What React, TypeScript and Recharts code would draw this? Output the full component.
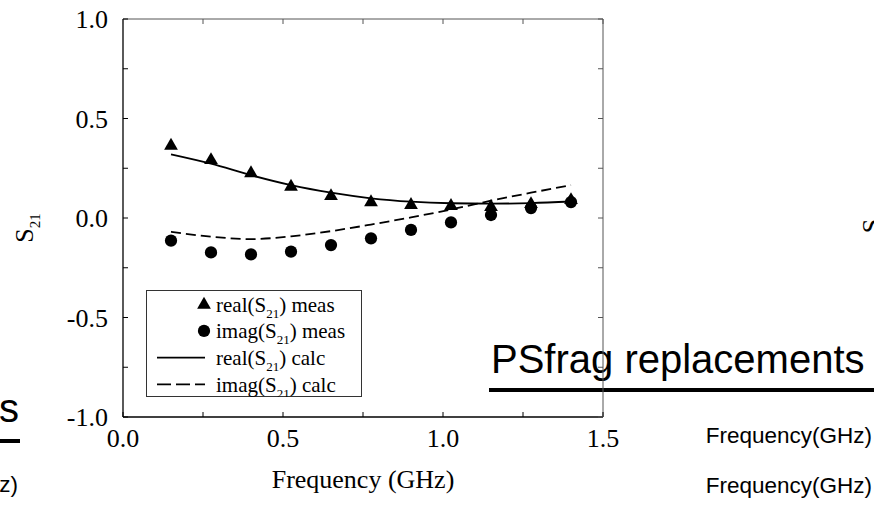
import React from 'react';
import { ComposedChart, Line, Scatter, XAxis, YAxis, Legend, Symbols } from 'recharts';

const FREQ = [0.15, 0.275, 0.4, 0.525, 0.65, 0.775, 0.9, 1.025, 1.15, 1.275, 1.4];
const REAL_MEAS = [0.363, 0.291, 0.225, 0.157, 0.11, 0.079, 0.065, 0.06, 0.055, 0.07, 0.09];
const IMAG_MEAS = [-0.114, -0.173, -0.183, -0.169, -0.136, -0.102, -0.06, -0.022, 0.015, 0.05, 0.08];
const REAL_CALC = [0.32, 0.273, 0.215, 0.165, 0.127, 0.099, 0.082, 0.074, 0.072, 0.075, 0.083];
const IMAG_CALC = [-0.069, -0.094, -0.106, -0.092, -0.066, -0.033, 0.003, 0.043, 0.087, 0.127, 0.165];

const X_TICKS = [0, 0.25, 0.5, 0.75, 1, 1.25, 1.5];
const X_LABELED = [0, 0.5, 1, 1.5];
const Y_TICKS = [-1, -0.75, -0.5, -0.25, 0, 0.25, 0.5, 0.75, 1];
const Y_LABELED = [-1, -0.5, 0, 0.5, 1];

const LEGEND_ITEMS = [
  { pre: 'real(S', post: ') meas', icon: 'triangle' },
  { pre: 'imag(S', post: ') meas', icon: 'circle' },
  { pre: 'real(S', post: ') calc', icon: 'solid' },
  { pre: 'imag(S', post: ') calc', icon: 'dashed' },
];

const data = FREQ.map((f, i) => ({
  f,
  realMeas: REAL_MEAS[i],
  imagMeas: IMAG_MEAS[i],
  realCalc: REAL_CALC[i],
  imagCalc: IMAG_CALC[i],
}));

const SERIF = '"Liberation Serif", "Times New Roman", serif';
const SANS = '"Liberation Sans", Arial, Helvetica, sans-serif';
const INK = '#000';
const FRAME = '#555';
const fmt = (v: number) => (v === 0 ? '0.0' : v.toFixed(1));

function BottomTick({ x, y, payload }: any) {
  const v = payload.value;
  return (
    <g>
      <line x1={x} x2={x} y1={y} y2={y - 5} stroke={INK} />
      {X_LABELED.includes(v) && (
        <text x={x} y={y + 30} textAnchor="middle" fontFamily={SERIF} fontSize={26} fill={INK}>
          {fmt(v)}
        </text>
      )}
    </g>
  );
}

function TopTick({ x, y }: any) {
  return <line x1={x} x2={x} y1={y} y2={y + 5} stroke={FRAME} />;
}

function LeftTick({ x, y, payload }: any) {
  const v = payload.value;
  return (
    <g>
      <line x1={x} x2={x + 5} y1={y} y2={y} stroke={INK} />
      {Y_LABELED.includes(v) && (
        <text x={x - 15} y={y + 9} textAnchor="end" fontFamily={SERIF} fontSize={26} fill={INK}>
          {fmt(v)}
        </text>
      )}
    </g>
  );
}

function RightTick({ x, y }: any) {
  return <line x1={x} x2={x - 5} y1={y} y2={y} stroke={FRAME} />;
}

const triangleShape = (p: any) => (
  <Symbols cx={p.cx} cy={p.cy} type="triangle" size={82} fill={INK} />
);
const circleShape = (p: any) => (
  <Symbols cx={p.cx} cy={p.cy} type="circle" size={118} fill={INK} />
);

function XTitle({ viewBox }: any) {
  const vb = viewBox || { x: 123, y: 417, width: 480 };
  return (
    <text x={vb.x + vb.width / 2} y={vb.y + 71} textAnchor="middle" fontFamily={SERIF} fontSize={26} fill={INK}>
      Frequency (GHz)
    </text>
  );
}

function YTitle({ viewBox }: any) {
  const vb = viewBox || { y: 19, height: 398 };
  const cx = 33;
  const cy = vb.y + vb.height / 2 + 10;
  return (
    <text x={cx} y={cy} transform={`rotate(-90 ${cx} ${cy})`} textAnchor="middle" fontFamily={SERIF} fontSize={26} fill={INK}>
      S<tspan dy={7} fontSize={15}>21</tspan>
    </text>
  );
}

function LegendBox() {
  return (
    <svg width={216} height={107} style={{ display: 'block' }}>
      <rect x={0.5} y={0.5} width={215} height={106} fill="#fff" stroke="#333" />
      {LEGEND_ITEMS.map((it, i) => {
        const base = 21.7 + i * 26.7;
        const mid = base - 7.5;
        let icon = null;
        if (it.icon === 'triangle') icon = <Symbols cx={58} cy={mid + 0.5} type="triangle" size={82} fill={INK} />;
        if (it.icon === 'circle') icon = <Symbols cx={58} cy={mid} type="circle" size={118} fill={INK} />;
        if (it.icon === 'solid') icon = <line x1={11} x2={59} y1={mid} y2={mid} stroke={INK} strokeWidth={1.8} />;
        if (it.icon === 'dashed')
          icon = <line x1={11} x2={59} y1={mid} y2={mid} stroke={INK} strokeWidth={1.8} strokeDasharray="14 5" />;
        return (
          <g key={i}>
            {icon}
            <text x={70} y={base} fontFamily={SERIF} fontSize={21} fill={INK}>
              {it.pre}
              <tspan dy={6} fontSize={13}>21</tspan>
              <tspan dy={-6}>{it.post}</tspan>
            </text>
          </g>
        );
      })}
    </svg>
  );
}

export default function App() {
  return (
    <div style={{ position: 'absolute', left: 0, top: 0, width: 874, height: 505, background: '#fff', overflow: 'hidden' }}>
      {/* leftovers of the neighbouring psfrag figures */}
      <svg width={874} height={505} style={{ position: 'absolute', left: 0, top: 0 }}>
        <text x={491} y={373} fontFamily={SANS} fontSize={40} fill={INK}>PSfrag replacements</text>
        <rect x={489} y={388} width={385} height={4} fill={INK} />
        <text x={872} y={443} textAnchor="end" fontFamily={SANS} fontSize={22.5} fill={INK}>Frequency(GHz)</text>
        <text x={872} y={493} textAnchor="end" fontFamily={SANS} fontSize={22.5} fill={INK}>Frequency(GHz)</text>
        <text x={19} y={422} textAnchor="end" fontFamily={SANS} fontSize={40} fill={INK}>PSfrag replacements</text>
        <rect x={0} y={439} width={20} height={4} fill={INK} />
        <text x={18} y={492} textAnchor="end" fontFamily={SANS} fontSize={22.5} fill={INK}>Frequency(GHz)</text>
        <text x={880} y={226} transform="rotate(-90 880 226)" textAnchor="middle" fontFamily={SERIF} fontSize={26} fill={INK}>S</text>
      </svg>
      <div style={{ position: 'absolute', left: 0, top: 0 }}>
        <ComposedChart width={874} height={505} data={data} margin={{ top: 18, right: 270, bottom: 0, left: 0 }}>
          <XAxis
            dataKey="f"
            type="number"
            domain={[0, 1.5]}
            allowDataOverflow
            ticks={X_TICKS}
            interval={0}
            tickSize={0}
            tickMargin={0}
            height={88}
            axisLine={{ stroke: INK, strokeWidth: 1.3 }}
            tickLine={false}
            tick={(p: any) => <BottomTick {...p} />}
            label={{ content: (p: any) => <XTitle {...p} /> }}
          />
          <XAxis
            xAxisId="top"
            orientation="top"
            dataKey="f"
            type="number"
            domain={[0, 1.5]}
            allowDataOverflow
            ticks={X_TICKS}
            interval={0}
            tickSize={0}
            tickMargin={0}
            height={1}
            axisLine={{ stroke: FRAME }}
            tickLine={false}
            tick={(p: any) => <TopTick {...p} />}
          />
          <YAxis
            type="number"
            domain={[-1, 1]}
            allowDataOverflow
            ticks={Y_TICKS}
            interval={0}
            tickSize={0}
            tickMargin={0}
            width={123}
            axisLine={{ stroke: INK, strokeWidth: 1.3 }}
            tickLine={false}
            tick={(p: any) => <LeftTick {...p} />}
            label={{ content: (p: any) => <YTitle {...p} /> }}
          />
          <YAxis
            yAxisId="right"
            orientation="right"
            type="number"
            domain={[-1, 1]}
            allowDataOverflow
            ticks={Y_TICKS}
            interval={0}
            tickSize={0}
            tickMargin={0}
            width={1}
            axisLine={{ stroke: FRAME }}
            tickLine={false}
            tick={(p: any) => <RightTick {...p} />}
          />
          {/* invisible series so the top/right frame axes get a domain */}
          <Line
            xAxisId="top"
            yAxisId="right"
            dataKey="realCalc"
            stroke="none"
            dot={false}
            activeDot={false}
            legendType="none"
            isAnimationActive={false}
          />
          <Line dataKey="realCalc" type="monotone" stroke={INK} strokeWidth={1.8} dot={false} isAnimationActive={false} />
          <Line dataKey="imagCalc" type="monotone" stroke={INK} strokeWidth={1.8} strokeDasharray="10 5" dot={false} isAnimationActive={false} />
          <Scatter dataKey="realMeas" shape={triangleShape} isAnimationActive={false} />
          <Scatter dataKey="imagMeas" shape={circleShape} isAnimationActive={false} />
          <Legend
            layout="vertical"
            verticalAlign="middle"
            align="center"
            wrapperStyle={{ left: 146, top: 290, width: 216, height: 107 }}
            content={() => <LegendBox />}
          />
        </ComposedChart>
      </div>
    </div>
  );
}
